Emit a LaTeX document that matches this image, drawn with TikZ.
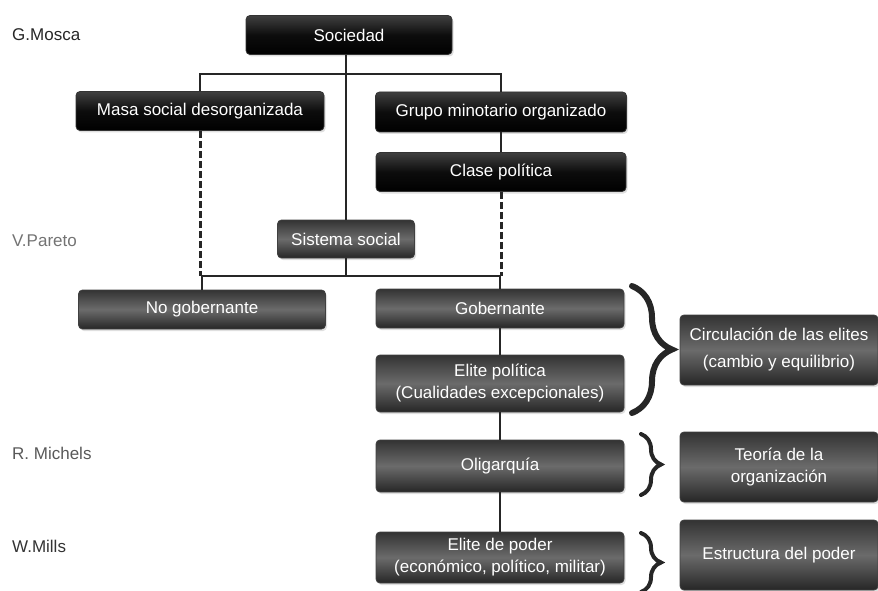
\documentclass[tikz,border=0pt]{standalone}
\usepackage{fontspec}
\setmainfont{Liberation Sans}
\usetikzlibrary{calc, shadows, decorations.pathreplacing}

\tikzset{
    darkbox/.style   = {rectangle, rounded corners = 4pt, draw = black!80, line width = 0.8pt,
                        top color = black!75, bottom color = black, middle color = black!95,
                        text = white, align = center, inner sep = 0pt,
                        drop shadow = {shadow xshift = 1.5pt, shadow yshift = -2pt, opacity = .25}},
    greybox/.style   = {darkbox, draw = black!75,
                        top color = black!80, bottom color = black!85, middle color = black!58},
    author/.style    = {anchor = west, inner sep = 0pt, text = black!55},
    link/.style      = {draw = black!85, line width = 2.4pt},
    dashlink/.style  = {link, line width = 3pt, dash pattern = on 7pt off 3pt},
    bigbrace/.style  = {decorate, decoration = {brace, amplitude = 40pt}, line width = 6pt,
                        line cap = round, draw = black!85},
    smallbrace/.style = {decorate, decoration = {brace, amplitude = 20pt}, line width = 4pt,
                        line cap = round, draw = black!85}
}

\begin{document}
\begin{tikzpicture}[x = 1pt, y = -1pt, font = \fontsize{17}{22}\selectfont]
        \useasboundingbox (0, 0) rectangle (878, 591);

        \node (mosca)   [author, text = black!85] at (12, 35)  {G.Mosca};
        \node (pareto)  [author]                  at (12, 241) {V.Pareto};
        \node (michels) [author, text = black!65] at (12, 453) {R. Michels};
        \node (mills)   [author, text = black!80] at (12, 546) {W.Mills};

        \node (soc)   [darkbox, minimum width = 206pt, minimum height = 39pt] at (349, 35)  {Sociedad};
        \node (masa)  [darkbox, minimum width = 248pt, minimum height = 39pt] at (200, 111) {Masa social desorganizada};
        \node (grupo) [darkbox, minimum width = 251pt, minimum height = 40pt] at (501, 112) {Grupo minotario organizado};
        \node (clase) [darkbox, minimum width = 250pt, minimum height = 39pt] at (501, 172) {Clase política};

        \node (sist)  [greybox, minimum width = 137pt, minimum height = 38pt] at (346, 239)   {Sistema social};
        \node (nog)   [greybox, minimum width = 247pt, minimum height = 39pt] at (202, 309.5) {No gobernante};
        \node (gob)   [greybox, minimum width = 248pt, minimum height = 39pt] at (500, 308.5) {Gobernante};
        \node (elpol) [greybox, minimum width = 248pt, minimum height = 57pt] at (500, 383.5) {Elite política\\(Cualidades excepcionales)};
        \node (olig)  [greybox, minimum width = 248pt, minimum height = 52pt] at (500, 466)   {Oligarquía};
        \node (elpod) [greybox, minimum width = 248pt, minimum height = 51pt] at (500, 557.5) {Elite de poder\\(económico, político, militar)};

        \node (circ)  [greybox, minimum width = 198pt, minimum height = 70pt] at (779, 350) {Circulación de las elites\\[5pt](cambio y equilibrio)};
        \node (teor)  [greybox, minimum width = 198pt, minimum height = 70pt] at (779, 467) {Teoría de la\\organización};
        \node (estr)  [greybox, minimum width = 198pt, minimum height = 70pt] at (779, 555) {Estructura del poder};

        \coordinate (j1) at (346, 74);
        \coordinate (j2) at (346, 276);

        \draw[link]     (sist.north)  -- (sist.north |- soc.south);
        \draw[link]     (masa.north)  |- (j1) -| (grupo.north);
        \draw[link]     (grupo)       -- (clase);
        \draw[dashlink] (masa.south)  -- (masa.south |- j2);
        \draw[dashlink] (clase.south) -- (clase.south |- j2);
        \draw[link]     (sist.south)  -- (j2);
        \draw[link]     (nog.north)   |- (j2) -| (gob.north);
        \draw[link]     (gob)         -- (elpol);
        \draw[link]     (elpol)       -- (olig);
        \draw[link]     (olig)        -- (elpod);

        \draw[bigbrace]   (632, 286) -- (632, 413);
        \draw[smallbrace] (641, 434) -- (641, 495);
        \draw[smallbrace] (641, 533) -- (641, 592);

    \end{tikzpicture}
\end{document}
